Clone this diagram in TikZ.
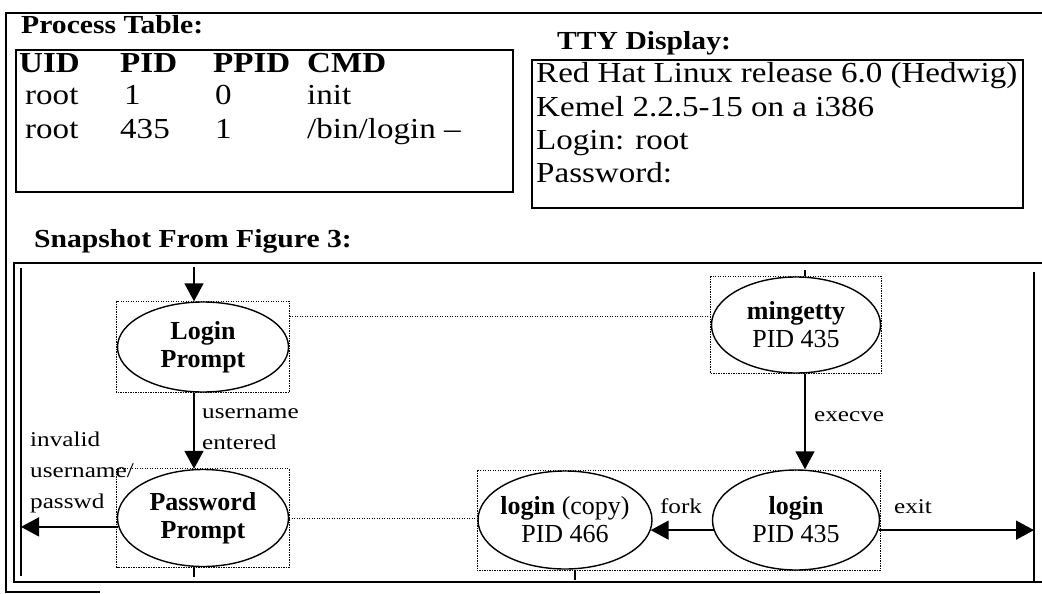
\documentclass[tikz,border=0pt]{standalone}
\usepackage{fontspec}
\setmainfont{Liberation Serif}
\newfontfamily\scrfont[FakeStretch=1.14]{Liberation Serif}
\newfontfamily\lblfont[FakeStretch=1.2]{Liberation Serif}
\usetikzlibrary{shapes.geometric,arrows.meta}

\begin{document}
\begin{tikzpicture}[x=1pt,y=-1pt,
	frame/.style={line width=1.6pt},
	box/.style={line width=0.7pt,dash pattern=on 1.2pt off 1.3pt},
	state/.style={draw,ellipse,line width=1.4pt,inner sep=0pt,align=center,font=\fontsize{26}{28}\selectfont},
	flow/.style={line width=1.6pt,-{Triangle[length=18pt,width=19pt]}},
	stub/.style={line width=1.4pt},
	title/.style={inner sep=0pt,anchor=base west,font=\scrfont\bfseries\fontsize{26}{26}\selectfont},
	cell/.style={inner sep=0pt,anchor=base west,font=\scrfont\fontsize{29}{29}\selectfont},
	hdr/.style={cell,font=\scrfont\bfseries\fontsize{29}{29}\selectfont},
	lbl/.style={inner sep=0pt,align=left,font=\lblfont\fontsize{21}{31}\selectfont}]
	\useasboundingbox[fill=white] (0,0) rectangle (1042,594);
	% outer frame
	\draw[frame] (1042,13) -- (6,13) -- (6,592) -- (100,592);

	% process table
	\node[title] (pttl) at (21,34) {Process Table:};
	\draw[frame] (16,50) rectangle (513,192);
	\foreach \txt/\x [count=\i] in {UID/19,PID/120,PPID/213,CMD/307}
		\node[hdr] (hd\i) at (\x,73) {\txt};
	\node[cell] (r1uid) at (25,105) {root};
	\node[cell] (r1pid) at (124,105) {1};
	\node[cell] (r1ppid) at (215,105) {0};
	\node[cell] (r1cmd) at (307,105) {init};
	\node[cell] (r2uid) at (25,138) {root};
	\node[cell] (r2pid) at (120,138) {435};
	\node[cell] (r2ppid) at (215,138) {1};
	\node[cell] (r2cmd) at (307,138) {/bin/login –};

	% tty display
	\node[title] (tttl) at (557,50) {TTY Display:};
	\draw[frame] (532,60) rectangle (1023,208);
	\node[cell] (tty1) at (536,83) {Red Hat Linux release 6.0 (Hedwig)};
	\node[cell] (tty2) at (536,116) {Kemel 2.2.5-15 on a i386};
	\node[cell] (tty3) at (536,149) {Login: root};
	\node[cell] (tty4) at (536,182) {Password:};

	% snapshot
	\node[title] (sttl) at (34,247) {Snapshot From Figure 3:};
	\draw[frame] (1042,263) -- (14,263) -- (14,582) -- (1042,582);
	\draw[frame] (21,268) -- (21,576);
	\draw[frame] (1034,272) -- (1034,582);
	\coordinate (lwall) at (21,400);
	\coordinate (rwall) at (1034,400);

	\node[state,minimum width=171pt,minimum height=90pt] (loginp) at (203,347) {\textbf{Login}\\\textbf{Prompt}};
	\node[state,minimum width=171pt,minimum height=97pt] (passp) at (203,518) {\textbf{Password}\\\textbf{Prompt}};
	\node[state,minimum width=169pt,minimum height=96pt] (mget) at (796,325) {\textbf{mingetty}\\PID 435};
	\node[state,minimum width=167pt,minimum height=100pt] (logn) at (796,520) {\textbf{login}\\PID 435};
	\node[state,minimum width=174pt,minimum height=98pt,inner xsep=-12pt] (logc) at (565,520) {\textbf{login} (copy)\\PID 466};

	\draw[box] (loginp.west |- loginp.north) rectangle (loginp.east |- loginp.south);
	\draw[box] (passp.west |- passp.north) rectangle (passp.east |- passp.south);
	\draw[box] (mget.west |- mget.north) rectangle (mget.east |- mget.south);
	\draw[box] (logc.west |- logc.north) rectangle (logn.east |- logn.south);
	\draw[box] ([yshift=9pt]mget.west) -- ([yshift=9pt]mget.west -| loginp.east);
	\draw[box] (passp.east) -- (passp.east -| logc.west);

	\coordinate (entry) at ([xshift=-9pt,yshift=34pt]loginp.north);
	\draw[flow] (entry) -- ([xshift=-9pt]loginp.north);
	\draw[flow] ([xshift=-9pt]loginp.south) -- ([xshift=-9pt]passp.north);
	\draw[flow] (passp.186) -- (passp.186 -| lwall);
	\draw[flow] ([xshift=9pt]mget.south) -- ([xshift=9pt]logn.north);
	\draw[flow] (logn.187) -- (logn.187 -| logc.-7);
	\draw[flow] (logn.-7) -- (logn.-7 -| rwall);

	\coordinate (mtop) at ([xshift=9pt,yshift=6pt]mget.north);
	\draw[stub] ([xshift=9pt]mget.north) -- (mtop);
	\coordinate (pbot) at ([xshift=-9pt,yshift=-10pt]passp.south);
	\draw[stub] ([xshift=-9pt]passp.south) -- (pbot);
	\coordinate (cbot) at ([xshift=10pt,yshift=-10pt]logc.south);
	\draw[stub] ([xshift=10pt]logc.south) -- (cbot);

	\node[lbl,anchor=west] (unlbl) at (202,429) {username\\entered};
	\node[lbl,anchor=west] (invlbl) at (30,472) {invalid\\username/\\passwd};
	\node[lbl,anchor=west] (exlbl) at (814,417) {execve};
	\node[lbl] (fklbl) at (681,506) {fork};
	\node[lbl] (xtlbl) at (913,507) {exit};
\end{tikzpicture}
\end{document}
